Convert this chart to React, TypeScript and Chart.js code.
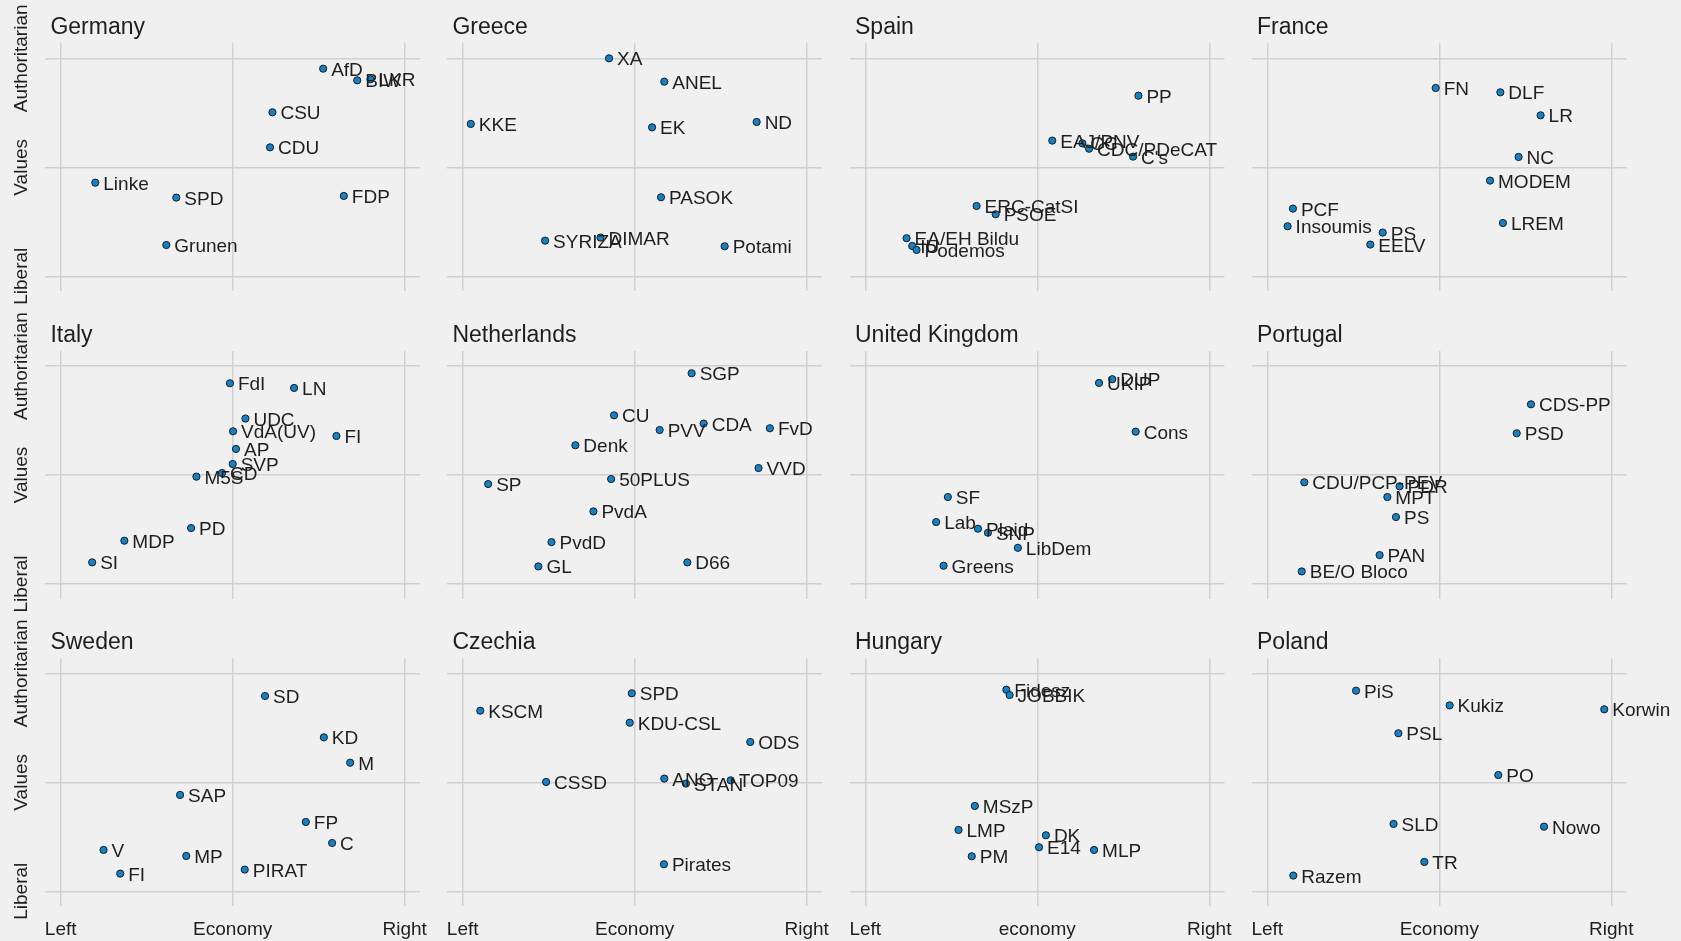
import React, { useEffect, useRef } from "react";
import { Chart, registerables } from "chart.js";

Chart.register(...registerables);

// ---------- DATA (economy: Left=-1 .. Right=1, values: Liberal=-1 .. Authoritarian=1) ----------
const germanyParties = ["AfD", "BIW", "LKR", "CSU", "CDU", "Linke", "SPD", "FDP", "Grunen"];
const germanyEconomy = [0.526, 0.724, 0.801, 0.231, 0.217, -0.799, -0.328, 0.646, -0.386];
const germanyValues = [0.905, 0.798, 0.807, 0.505, 0.183, -0.141, -0.278, -0.263, -0.713];

const greeceParties = ["XA", "ANEL", "KKE", "EK", "ND", "PASOK", "SYRIZA", "DIMAR", "Potami"];
const greeceEconomy = [-0.149, 0.172, -0.953, 0.101, 0.709, 0.153, -0.521, -0.199, 0.523];
const greeceValues = [1.0, 0.786, 0.398, 0.367, 0.416, -0.275, -0.673, -0.645, -0.725];

const spainParties = ["PP", "EAJ/PNV", "CC", "CDC/PDeCAT", "C's", "ERC-CatSI", "PSOE", "EA/EH Bildu", "IU", "Podemos"];
const spainEconomy = [0.588, 0.087, 0.262, 0.301, 0.557, -0.353, -0.242, -0.76, -0.727, -0.702];
const spainValues = [0.657, 0.245, 0.22, 0.171, 0.098, -0.355, -0.431, -0.651, -0.722, -0.758];

const franceParties = ["FN", "DLF", "LR", "NC", "MODEM", "LREM", "PCF", "Insoumis", "PS", "EELV"];
const franceEconomy = [-0.021, 0.355, 0.589, 0.461, 0.295, 0.37, -0.851, -0.882, -0.329, -0.401];
const franceValues = [0.728, 0.688, 0.477, 0.095, -0.122, -0.511, -0.379, -0.541, -0.599, -0.709];

const italyParties = ["FdI", "LN", "UDC", "VdA(UV)", "FI", "AP", "SVP", "CD", "M5S", "PD", "MDP", "SI"];
const italyEconomy = [-0.016, 0.357, 0.074, 0.002, 0.603, 0.019, 0.0, -0.062, -0.211, -0.242, -0.63, -0.817];
const italyValues = [0.842, 0.799, 0.518, 0.401, 0.358, 0.239, 0.101, 0.018, -0.015, -0.487, -0.603, -0.802];

const netherlandsParties = ["SGP", "CU", "PVV", "CDA", "FvD", "Denk", "VVD", "SP", "50PLUS", "PvdA", "PvdD", "GL", "D66"];
const netherlandsEconomy = [0.331, -0.12, 0.145, 0.401, 0.786, -0.345, 0.72, -0.852, -0.137, -0.24, -0.484, -0.56, 0.306];
const netherlandsValues = [0.934, 0.548, 0.413, 0.472, 0.429, 0.273, 0.064, -0.083, -0.037, -0.334, -0.616, -0.839, -0.802];

const ukParties = ["UKIP", "DUP", "Cons", "SF", "Lab", "Plaid", "SNP", "LibDem", "Greens"];
const ukEconomy = [0.359, 0.436, 0.572, -0.52, -0.588, -0.345, -0.287, -0.113, -0.545];
const ukValues = [0.845, 0.879, 0.398, -0.202, -0.432, -0.493, -0.53, -0.668, -0.833];

const portugalParties = ["CDS-PP", "PSD", "CDU/PCP-PEV", "PDR", "MPT", "PS", "PAN", "BE/O Bloco"];
const portugalEconomy = [0.533, 0.45, -0.785, -0.231, -0.302, -0.252, -0.347, -0.8];
const portugalValues = [0.649, 0.383, -0.067, -0.104, -0.202, -0.386, -0.735, -0.885];

const swedenParties = ["SD", "KD", "M", "SAP", "FP", "C", "V", "MP", "FI", "PIRAT"];
const swedenEconomy = [0.188, 0.53, 0.683, -0.306, 0.425, 0.578, -0.751, -0.27, -0.654, 0.07];
const swedenValues = [0.792, 0.413, 0.18, -0.116, -0.364, -0.557, -0.621, -0.676, -0.838, -0.801];

const czechiaParties = ["SPD", "KSCM", "KDU-CSL", "ODS", "CSSD", "ANO", "STAN", "TOP09", "Pirates"];
const czechiaEconomy = [-0.017, -0.898, -0.029, 0.672, -0.515, 0.172, 0.298, 0.558, 0.17];
const czechiaValues = [0.817, 0.657, 0.547, 0.37, 0.003, 0.034, -0.012, 0.018, -0.752];

const hungaryParties = ["Fidesz", "JOBBIK", "MSzP", "LMP", "PM", "DK", "E14", "MLP"];
const hungaryEconomy = [-0.18, -0.161, -0.363, -0.458, -0.381, 0.05, 0.01, 0.33];
const hungaryValues = [0.85, 0.801, -0.217, -0.437, -0.679, -0.486, -0.596, -0.621];

const polandParties = ["PiS", "Kukiz", "Korwin", "PSL", "PO", "SLD", "Nowo", "TR", "Razem"];
const polandEconomy = [-0.484, 0.06, 0.959, -0.238, 0.343, -0.266, 0.609, -0.087, -0.849];
const polandValues = [0.841, 0.706, 0.67, 0.45, 0.067, -0.382, -0.407, -0.731, -0.856];

const tickValues = [-1, 0, 1];
const economyTickLabels = ["Left", "Economy", "Right"];
const hungaryEconomyTickLabels = ["Left", "economy", "Right"];
const valuesTickLabels = ["Liberal", "Values", "Authoritarian"];

const panels = [
  { title: "Germany", names: germanyParties, xs: germanyEconomy, ys: germanyValues, xTicks: economyTickLabels },
  { title: "Greece", names: greeceParties, xs: greeceEconomy, ys: greeceValues, xTicks: economyTickLabels },
  { title: "Spain", names: spainParties, xs: spainEconomy, ys: spainValues, xTicks: economyTickLabels },
  { title: "France", names: franceParties, xs: franceEconomy, ys: franceValues, xTicks: economyTickLabels },
  { title: "Italy", names: italyParties, xs: italyEconomy, ys: italyValues, xTicks: economyTickLabels },
  { title: "Netherlands", names: netherlandsParties, xs: netherlandsEconomy, ys: netherlandsValues, xTicks: economyTickLabels },
  { title: "United Kingdom", names: ukParties, xs: ukEconomy, ys: ukValues, xTicks: economyTickLabels },
  { title: "Portugal", names: portugalParties, xs: portugalEconomy, ys: portugalValues, xTicks: economyTickLabels },
  { title: "Sweden", names: swedenParties, xs: swedenEconomy, ys: swedenValues, xTicks: economyTickLabels },
  { title: "Czechia", names: czechiaParties, xs: czechiaEconomy, ys: czechiaValues, xTicks: economyTickLabels },
  { title: "Hungary", names: hungaryParties, xs: hungaryEconomy, ys: hungaryValues, xTicks: hungaryEconomyTickLabels },
  { title: "Poland", names: polandParties, xs: polandEconomy, ys: polandValues, xTicks: economyTickLabels },
];

// ---------- LAYOUT / STYLE ----------
const BG = "#f0f0f0";
const GRID = "#d0d0d0";
const TEXT = "#1e1e1e";
const DOT = "#1283c9";
const FONT = "'Liberation Sans', Arial, Helvetica, sans-serif";
const AXES_LEFT = [45.4, 447.4, 850.0, 1252.0];
const AXES_TOP = [43.3, 351.0, 658.3];
const CANVAS_LEFT = [0, 402, 805, 1207];
const CANVAS_TOP = [0, 308, 615];
const AXES_W = 374.6;
const AXES_H = 248;
const CW = 474;
const CH = 326;
const X_LIM = 1.089;
const Y_LIM = 1.138;

type PanelData = (typeof panels)[number];

function Panel({ p, col, row }: { p: PanelData; col: number; row: number }) {
  const ref = useRef<HTMLCanvasElement>(null);

  useEffect(() => {
    const canvas = ref.current;
    if (!canvas) return;
    const padL = AXES_LEFT[col] - CANVAS_LEFT[col];
    const padT = AXES_TOP[row] - CANVAS_TOP[row];
    const padR = CW - padL - AXES_W;
    const padB = CH - padT - AXES_H;

    const textPlugin = {
      id: "panelText",
      afterDatasetsDraw(chart: any) {
        const ctx = chart.ctx;
        const area = chart.chartArea;
        const xs = chart.scales.x;
        const ys = chart.scales.y;
        ctx.save();
        ctx.fillStyle = TEXT;
        // point labels
        ctx.font = `19px ${FONT}`;
        ctx.textAlign = "left";
        ctx.textBaseline = "alphabetic";
        const meta = chart.getDatasetMeta(0);
        meta.data.forEach((pt: any, i: number) => {
          ctx.fillText(p.names[i], pt.x + 8, pt.y + 7);
        });
        // title
        ctx.font = `23px ${FONT}`;
        ctx.fillText(p.title, area.left + 5, area.top - 9);
        // y tick labels
        if (col === 0) {
          ctx.font = `19px ${FONT}`;
          ctx.textAlign = "center";
          tickValues.forEach((v, i) => {
            const y = ys.getPixelForValue(v);
            ctx.save();
            ctx.translate(area.left - 18.9, y);
            ctx.rotate(-Math.PI / 2);
            ctx.fillText(valuesTickLabels[i], 0, 0);
            ctx.restore();
          });
        }
        // x tick labels
        if (row === 2) {
          ctx.font = `19px ${FONT}`;
          ctx.textAlign = "center";
          tickValues.forEach((v, i) => {
            const x = xs.getPixelForValue(v);
            ctx.fillText(p.xTicks[i], x, area.bottom + 28.7);
          });
        }
        ctx.restore();
      },
    };

    const points = p.xs.map((x, i) => ({ x, y: p.ys[i] }));

    const chart = new Chart(canvas, {
      type: "scatter",
      data: {
        datasets: [
          {
            data: points,
            pointRadius: 3.6,
            pointBorderWidth: 1,
            pointBorderColor: "#1a1a1a",
            pointBackgroundColor: DOT,
            clip: false as any,
          },
        ],
      },
      options: {
        animation: false,
        responsive: false,
        events: [],
        layout: { padding: { left: padL, top: padT, right: padR, bottom: padB } },
        plugins: { legend: { display: false }, tooltip: { enabled: false }, title: { display: false } },
        scales: {
          x: {
            type: "linear",
            min: -X_LIM,
            max: X_LIM,
            afterBuildTicks: (s: any) => {
              s.ticks = tickValues.map((v) => ({ value: v }));
            },
            afterFit: (s: any) => {
              s.height = 0;
            },
            ticks: { display: false },
            grid: { color: GRID, lineWidth: 1.5, drawTicks: false },
            border: { display: false },
          },
          y: {
            type: "linear",
            min: -Y_LIM,
            max: Y_LIM,
            afterBuildTicks: (s: any) => {
              s.ticks = tickValues.map((v) => ({ value: v }));
            },
            afterFit: (s: any) => {
              s.width = 0;
            },
            ticks: { display: false },
            grid: { color: GRID, lineWidth: 1.5, drawTicks: false },
            border: { display: false },
          },
        },
      },
      plugins: [textPlugin],
    });
    return () => chart.destroy();
  }, [p, col, row]);

  return (
    <canvas
      ref={ref}
      width={CW}
      height={CH}
      style={{
        position: "absolute",
        left: CANVAS_LEFT[col],
        top: CANVAS_TOP[row],
        width: CW,
        height: CH,
      }}
    />
  );
}

export default function App() {
  useEffect(() => {
    document.documentElement.style.margin = "0";
    document.documentElement.style.overflow = "hidden";
    document.body.style.margin = "0";
    document.body.style.overflow = "hidden";
    document.body.style.background = BG;
  }, []);

  return (
    <div
      style={{
        position: "relative",
        width: 1681,
        height: 941,
        background: BG,
        overflow: "hidden",
      }}
    >
      {panels.map((p, i) => (
        <Panel key={p.title} p={p} col={i % 4} row={Math.floor(i / 4)} />
      ))}
    </div>
  );
}
